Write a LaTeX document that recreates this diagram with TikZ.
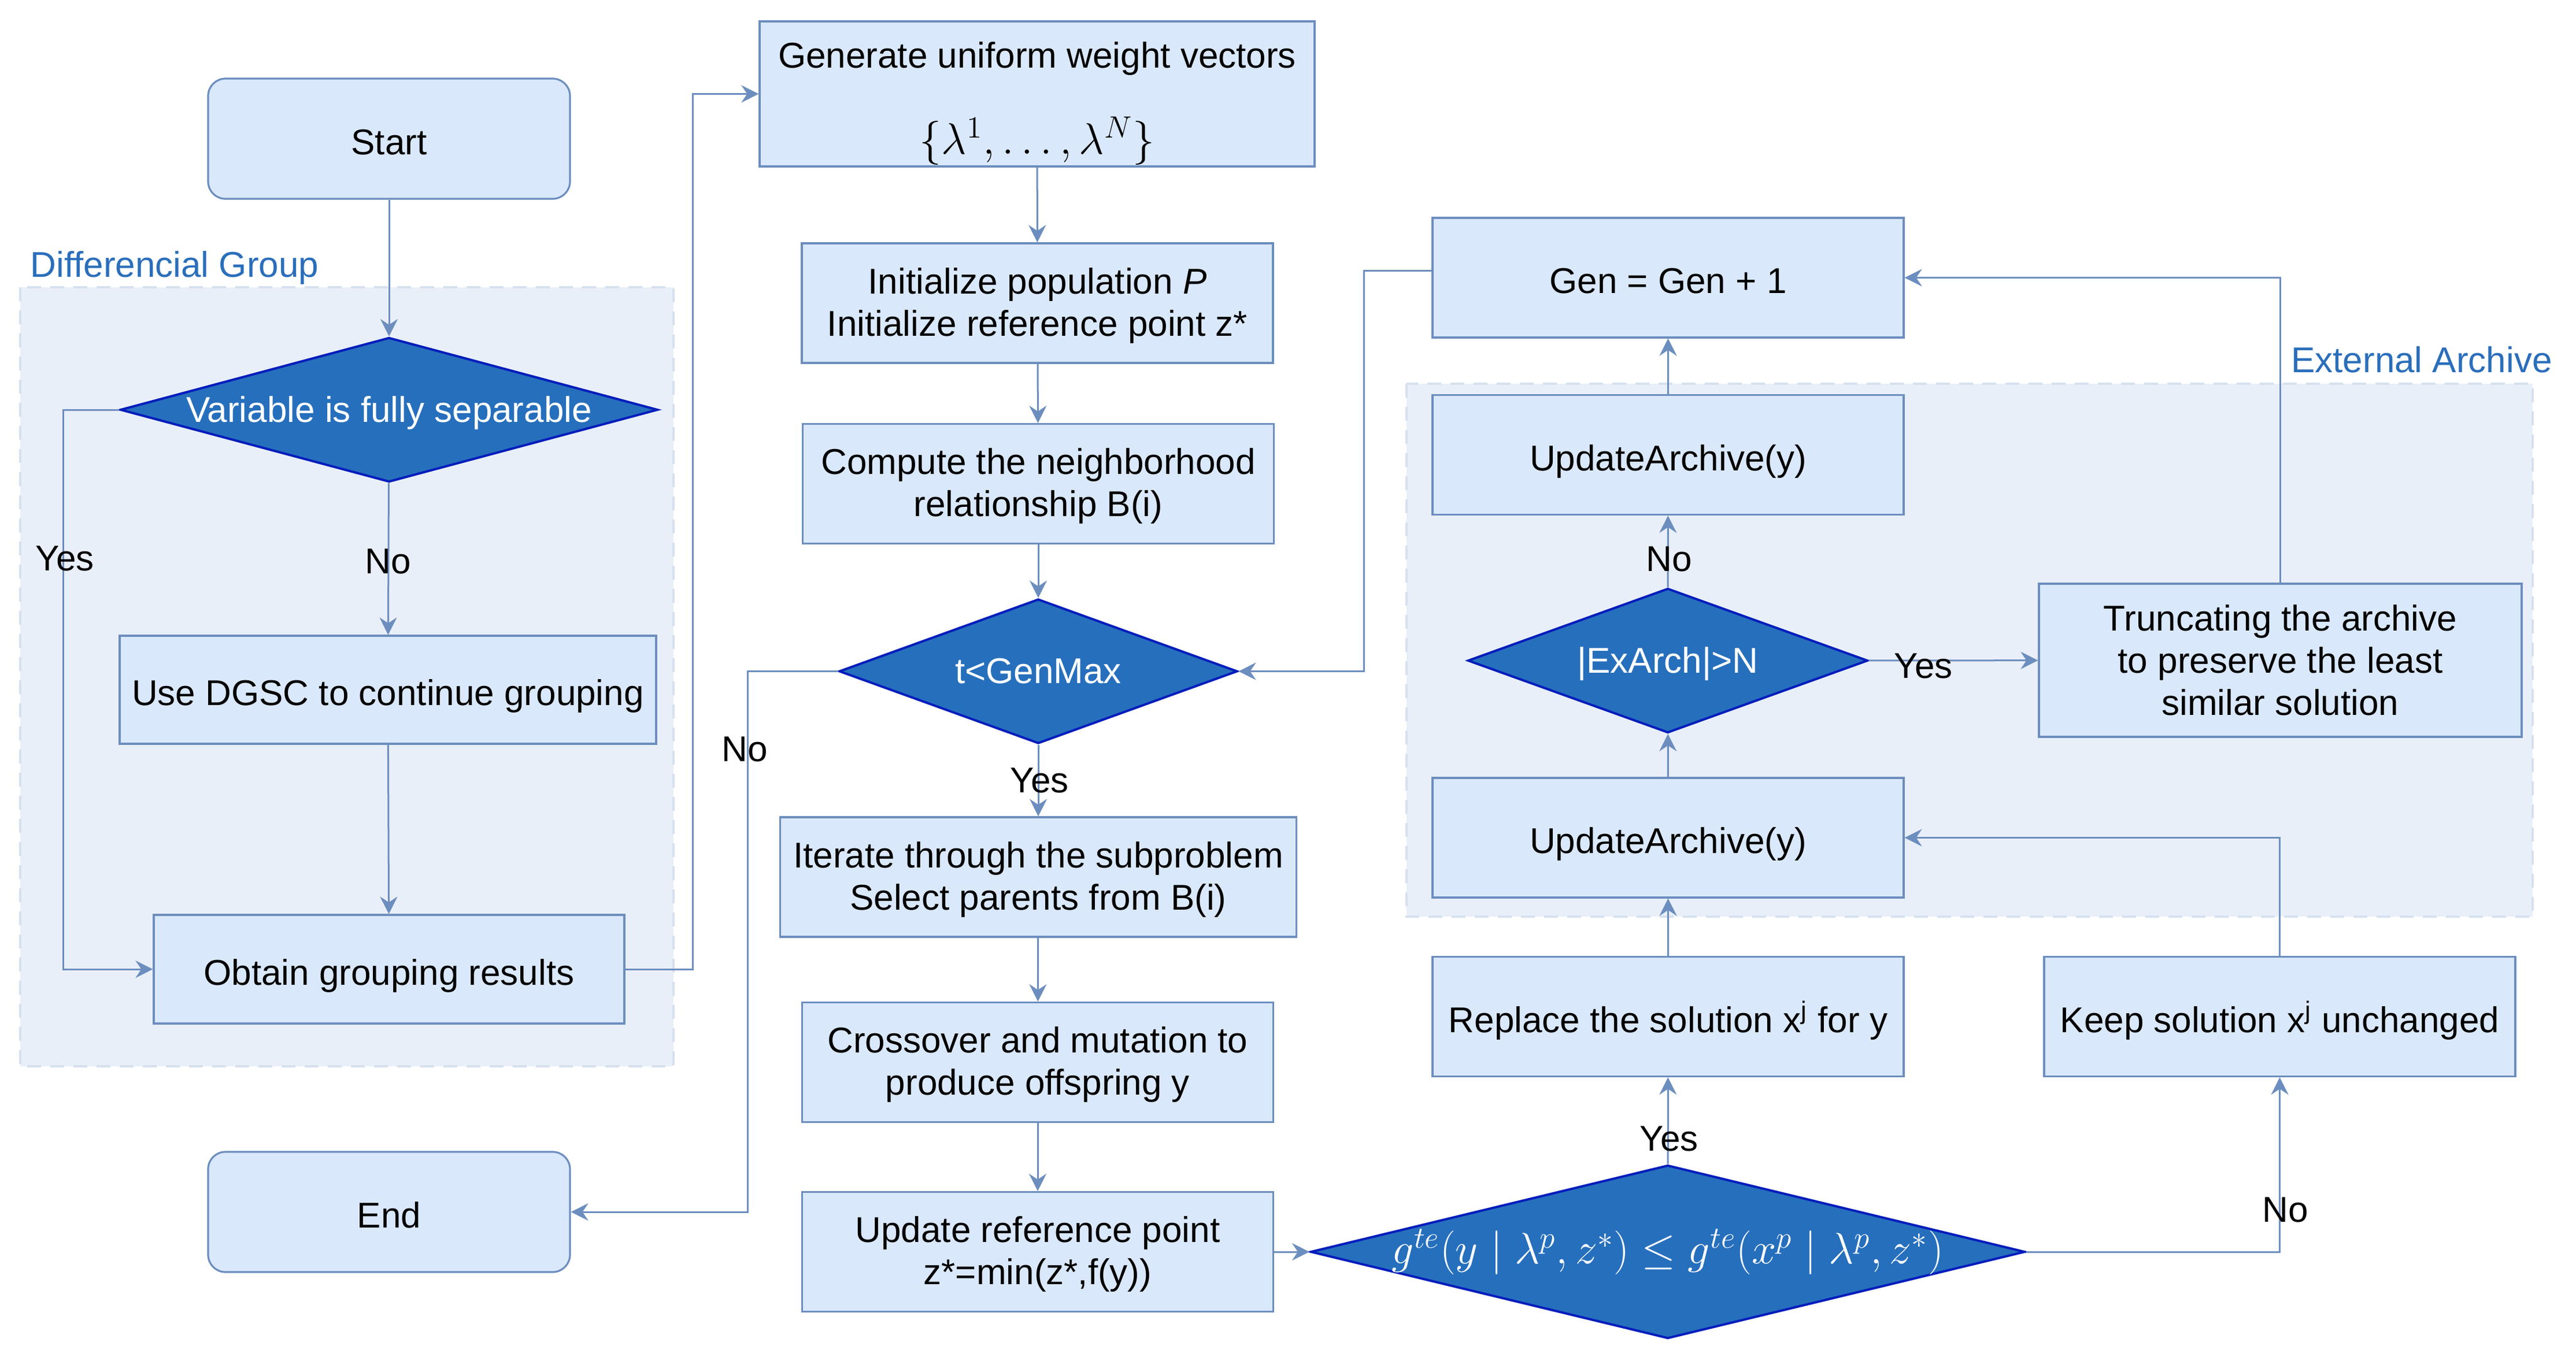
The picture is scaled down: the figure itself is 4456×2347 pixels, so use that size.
\documentclass[tikz,border=0pt]{standalone}
\usepackage{fix-cm}
\usepackage[no-math]{fontspec}
\setmainfont{Liberation Sans}
\usetikzlibrary{shapes.geometric,arrows.meta}
\definecolor{bfill}{HTML}{DAE8FC}
\definecolor{bdraw}{HTML}{6C8EBF}
\definecolor{dfill}{HTML}{266FBD}
\definecolor{ddraw}{HTML}{001DBC}
\definecolor{gfill}{HTML}{E9EFF8}
\definecolor{gdraw}{HTML}{D6E1EF}
\definecolor{glabel}{HTML}{2A6EBB}
\newcommand\bodyfont{\fontsize{15.5}{18.25}\selectfont}
\newcommand\mathsz{\fontsize{19}{22}\selectfont}
\begin{document}
\begin{tikzpicture}[x=0.25pt,y=-0.25pt,
  box/.style={draw=bdraw,fill=bfill,line width=0.8pt,inner sep=0pt,align=center,font=\bodyfont,minimum width=203.75pt,minimum height=51.75pt},
  one/.style={text height=14pt,text depth=0.5pt},
  multi/.style={text depth=1pt},
  term/.style={box,one,rounded corners=7.5pt,minimum width=156.5pt,minimum height=52pt},
  dec/.style={diamond,draw=ddraw,fill=dfill,line width=1pt,inner sep=0pt},
  dtext/.style={text=white,font=\bodyfont,inner sep=0pt,align=center,text height=11pt,text depth=0.5pt},
  lab/.style={font=\bodyfont,inner sep=0pt},
  grp/.style={font=\bodyfont,text=glabel,inner sep=0pt},
  flow/.style={draw=bdraw,line width=0.75pt,-{Stealth[length=7.5pt,width=7.5pt,inset=2.5pt]}}]
\useasboundingbox (0,0) rectangle (4456,2347);
% group backgrounds
\fill[gfill] (35,497) rectangle (1165,1845);
\draw[gdraw,line width=1pt,dash pattern=on 6pt off 4pt] (35,497) rectangle (1165,1845);
\fill[gfill] (2433,664) rectangle (4381,1586);
\draw[gdraw,line width=1pt,dash pattern=on 6pt off 4pt] (2433,664) rectangle (4381,1586);
\node[grp,anchor=west] (grp1) at (52,463) {Differencial Group};
\node[grp] (grp2) at (4189,622) {External Archive};
% left column
\node[term] (start) at (673,240) {Start};
\node[dec,minimum width=232.5pt,minimum height=62.5pt] (d1) at (673,709) {};
\node[dtext] (d1t) at (d1.center) {Variable is fully separable};
\node[box,one,minimum width=232pt,minimum height=46.75pt] (dgsc) at (671,1193.5) {Use DGSC to continue grouping};
\node[box,one,minimum width=203.5pt,minimum height=47pt] (obtain) at (673,1677) {Obtain grouping results};
\node[term] (end) at (673,2097) {End};
% middle column
\node[box,minimum width=240pt,minimum height=62.75pt] (gen) at (1794,162.5) {};
\node[lab] (gent) at (1794,101) {Generate uniform weight vectors};
\node[lab,font=\mathsz] (genm) at (1794,244) {$\{\lambda^1,\ldots,\lambda^N\}$};
\node[box,multi] (init) at (1794.5,524.5) {Initialize population \textit{P}\\Initialize reference point z*};
\node[box,multi] (comp) at (1796,837) {Compute the neighborhood\\relationship B(i)};
\node[dec,minimum width=172.25pt,minimum height=62.5pt] (d2) at (1796,1161.5) {};
\node[dtext] (d2t) at (d2.center) {t<GenMax};
\node[box,multi,minimum width=223.25pt] (iter) at (1796,1517.5) {Iterate through the subproblem\\Select parents from B(i)};
\node[box,multi] (cross) at (1795,1838) {Crossover and mutation to\\produce offspring y};
\node[box,multi] (upd) at (1795,2166) {Update reference point\\z*=min(z*,f(y))};
% right part
\node[dec,minimum width=309pt,minimum height=75pt] (d3) at (2885,2166) {};
\node[text=white,inner sep=0pt,font=\mathsz] (d3t) at (d3.center) {$g^{te}(y\mid\lambda^p,z^*)\le g^{te}(x^p\mid\lambda^p,z^*)$};
\node[box,one] (repl) at (2885.5,1759) {Replace the solution x\textsuperscript{j} for y};
\node[box,one] (keep) at (3943.5,1759) {Keep solution x\textsuperscript{j} unchanged};
\node[box,one] (ua2) at (2885.5,1449.5) {UpdateArchive(y)};
\node[dec,minimum width=173pt,minimum height=62.5pt] (d4) at (2885,1143) {};
\node[dtext] (d4t) at (d4.center) {|ExArch|>N};
\node[box,text depth=-2pt,minimum width=208.75pt,minimum height=66.25pt] (trunc) at (3944.5,1142.5) {Truncating the archive\\to preserve the least\\similar solution};
\node[box,one] (ua1) at (2885.5,787) {UpdateArchive(y)};
\node[box,one] (gen1) at (2885.5,480.5) {Gen = Gen + 1};
% routing coordinates
\coordinate (cy) at (109,0);
\coordinate (co) at (1198,0);
\coordinate (cn) at (1293,0);
\coordinate (cg) at (2359,0);
% connectors
\draw[flow] (start) -- (d1);
\draw[flow] (d1.west) -| (cy |- obtain.west) -- (obtain.west);
\draw[flow] (d1) -- (dgsc);
\draw[flow] (dgsc) -- (obtain);
\draw[flow] (obtain.east) -| (co |- gen.west) -- (gen.west);
\draw[flow] (gen) -- (init);
\draw[flow] (init) -- (comp);
\draw[flow] (comp) -- (d2);
\draw[flow] (d2.west) -| (cn |- end.east) -- (end.east);
\draw[flow] (d2) -- (iter);
\draw[flow] (iter) -- (cross);
\draw[flow] (cross) -- (upd);
\draw[flow] (upd) -- (d3);
\draw[flow] (d3) -- (repl);
\draw[flow] (d3.east) -| (keep.south);
\draw[flow] (repl) -- (ua2);
\draw[flow] (keep.north) |- (ua2.east);
\draw[flow] (ua2) -- (d4);
\draw[flow] (d4) -- (trunc);
\draw[flow] (d4) -- (ua1);
\draw[flow] (ua1) -- (gen1);
\draw[flow] (trunc.north) |- (gen1.east);
\draw[flow] ([yshift=3pt]gen1.west) -| (cg |- d2.east) -- (d2.east);
% edge labels
\node[lab] (l1) at (112,966) {Yes};
\node[lab] (l2) at (671,971) {No};
\node[lab] (l3) at (1288,1296) {No};
\node[lab] (l4) at (1798,1350) {Yes};
\node[lab] (l5) at (2887,1970) {Yes};
\node[lab] (l6) at (3953,2093) {No};
\node[lab] (l7) at (2887,967) {No};
\node[lab] (l8) at (3327,1152) {Yes};
\end{tikzpicture}
\end{document}
